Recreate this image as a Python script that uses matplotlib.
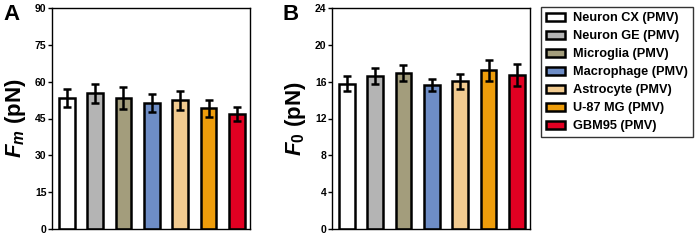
import matplotlib
matplotlib.use("Agg")
import matplotlib.pyplot as plt
from matplotlib.patches import Patch

plt.rcParams['font.family'] = ['Liberation Sans', 'DejaVu Sans']
plt.rcParams['font.weight'] = 'bold'
plt.rcParams['mathtext.fontset'] = 'custom'
plt.rcParams['mathtext.it'] = 'Liberation Sans:italic:bold'
plt.rcParams['mathtext.rm'] = 'Liberation Sans:bold'

categories = ["Neuron CX (PMV)", "Neuron GE (PMV)", "Microglia (PMV)",
              "Macrophage (PMV)", "Astrocyte (PMV)", "U-87 MG (PMV)", "GBM95 (PMV)"]
colors = ["#FFFFFF", "#B4B4B4", "#A39D7C", "#6E8DC6", "#F2CB90", "#EE9D0B", "#E10022"]

fm_mean = [53.3, 55.2, 53.2, 51.4, 52.5, 49.1, 46.8]
fm_err = [3.8, 3.9, 4.5, 3.6, 3.9, 3.3, 2.7]
f0_mean = [15.8, 16.6, 16.95, 15.6, 16.05, 17.25, 16.7]
f0_err = [0.85, 0.9, 0.85, 0.65, 0.8, 1.15, 1.2]

fm_ticks = [0, 15, 30, 45, 60, 75, 90]
f0_ticks = [0, 4, 8, 12, 16, 20, 24]

W, H = 698, 242
fig = plt.figure(figsize=(W / 100, H / 100), dpi=100)

def px_axes(l, r, t, b):
    return fig.add_axes([l / W, 1 - b / H, (r - l) / W, (b - t) / H])

axA = px_axes(52, 250, 8, 229)
axB = px_axes(332, 530, 8, 229)

x = list(range(len(categories)))

def draw(ax, mean, err, ticks, ylabel, letter):
    ax.bar(x, mean, width=0.55, color=colors, edgecolor="black", linewidth=1.8, zorder=2)
    ax.errorbar(x, mean, yerr=err, fmt="none", ecolor="black", elinewidth=1.8,
                capsize=3.2, capthick=1.8, zorder=3)
    ax.set_xlim(-0.52, 6.46)
    ax.set_ylim(ticks[0], ticks[-1])
    ax.set_yticks(ticks)
    ax.set_xticks([])
    ax.tick_params(axis="y", labelsize=7.5, width=1, length=3, pad=1)
    for lab in ax.get_yticklabels():
        lab.set_fontweight("bold")
    for s in ax.spines.values():
        s.set_linewidth(1.0)
    ax.set_ylabel(ylabel, fontsize=16, fontweight="bold")
    ax.yaxis.set_label_coords(-0.12, 0.5)
    ax.text(-0.207, 1.02, letter, transform=ax.transAxes, fontsize=16,
            fontweight="bold", va="top", ha="center")

draw(axA, fm_mean, fm_err, fm_ticks, r"$F_m$ (pN)", "A")
draw(axB, f0_mean, f0_err, f0_ticks, r"$F_0$ (pN)", "B")

handles = [Patch(facecolor=c, edgecolor="black", linewidth=1.8) for c in colors]
leg = fig.legend(handles, categories, loc="upper left",
                 bbox_to_anchor=(541 / W, 1 - 7 / H), frameon=True,
                 borderaxespad=0, handlelength=1.5, handleheight=0.6,
                 borderpad=0.4, labelspacing=0.47, handletextpad=0.6,
                 fancybox=False, edgecolor="black", prop={"weight": "bold", "size": 9.2})
leg.get_frame().set_linewidth(1.0)

fig.savefig("out.png", dpi=100)
